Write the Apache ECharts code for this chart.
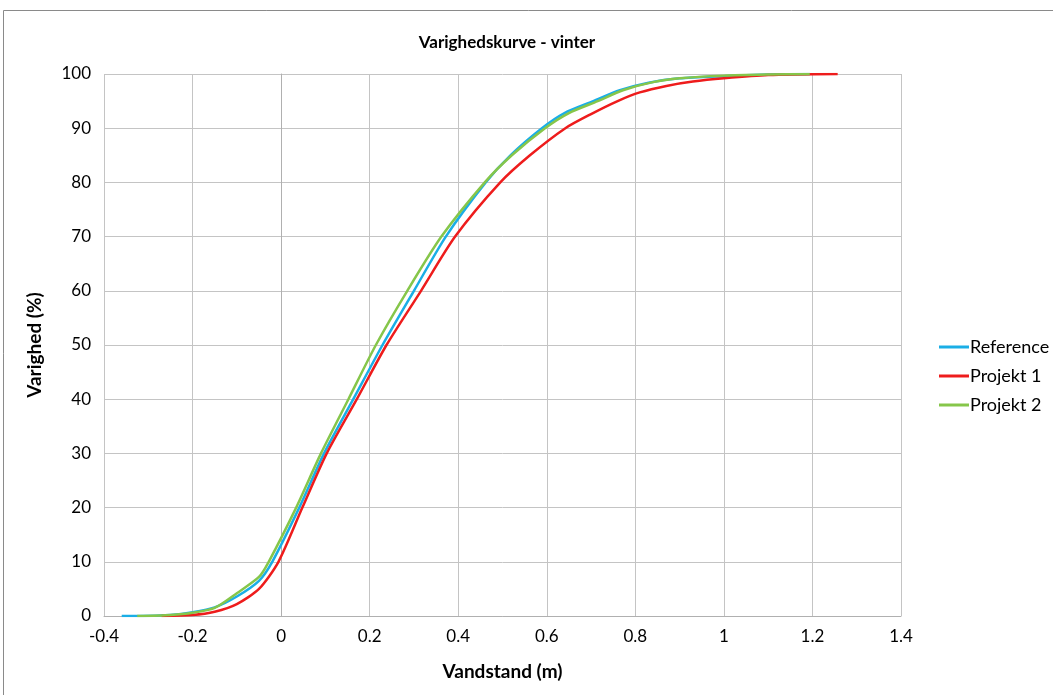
<!DOCTYPE html>
<html><head><meta charset="utf-8">
<script src="https://cdn.jsdelivr.net/npm/echarts@6/dist/echarts.min.js"></script>
<style>html,body{margin:0;padding:0;background:#fff}#c{width:1053px;height:695px}</style>
</head><body><div id="c"></div>
<script>
const xTicks = [-0.4, -0.2, 0, 0.2, 0.4, 0.6, 0.8, 1, 1.2, 1.4];
const refX = [-0.36, -0.32, -0.25, -0.2, -0.15, -0.1, -0.05, -0.02, 0.041, 0.097, 0.163, 0.229, 0.300, 0.372, 0.462, 0.518, 0.589, 0.64, 0.705, 0.765, 0.83, 0.9, 1.0, 1.1, 1.194];
const refY = [0, 0, 0.2, 0.7, 1.6, 3.6, 6.5, 10, 20, 30, 40, 50, 60, 70, 80, 85, 90, 92.8, 95, 97, 98.4, 99.2, 99.6, 99.9, 100];
const p1X = [-0.27, -0.2, -0.15, -0.1, -0.05, -0.006, 0.048, 0.103, 0.171, 0.238, 0.316, 0.393, 0.495, 0.562, 0.642, 0.7, 0.76, 0.81, 0.87, 0.93, 1.0, 1.1, 1.257];
const p1Y = [0, 0.2, 0.8, 2.2, 5.0, 10, 20, 30, 40, 50, 60, 70, 80, 85, 90, 92.6, 95, 96.6, 97.8, 98.6, 99.2, 99.8, 100];
const p2X = [-0.325, -0.25, -0.2, -0.15, -0.1, -0.05, -0.028, 0.034, 0.09, 0.152, 0.214, 0.285, 0.362, 0.46, 0.521, 0.596, 0.65, 0.715, 0.772, 0.84, 0.9, 1.0, 1.1, 1.194];
const p2Y = [0, 0.2, 0.6, 1.5, 4.2, 7.2, 10, 20, 30, 40, 50, 60, 70, 80, 85, 90, 92.8, 95, 97, 98.5, 99.2, 99.7, 99.9, 100];

const zip = (a, b) => a.map((v, i) => [v, b[i]]);
const FONT = 'Lato, "Open Sans", sans-serif';
const chart = echarts.init(document.getElementById('c'));
const lineSeries = (name, xs, ys, color) => ({
  name, type: 'line', data: zip(xs, ys), showSymbol: false,
  smooth: 0.25,
  lineStyle: { color, width: 2.5 }, itemStyle: { color }
});
chart.setOption({
  animation: false,
  title: { text: 'Varighedskurve - vinter', left: 502, top: 29, textAlign: 'center',
    textStyle: { fontFamily: FONT, fontSize: 17, fontWeight: 'bold', color: '#000' } },
  graphic: [{ type: 'rect', shape: { x: 3.5, y: 10.5, width: 1060, height: 700 },
    style: { fill: 'none', stroke: '#8a8a8a', lineWidth: 1 }, silent: true }],
  grid: { left: 104, right: 152, top: 74, bottom: 79 },
  legend: {
    orient: 'vertical', left: 934, top: 333, itemGap: 11, itemWidth: 30, itemHeight: 3,
    icon: 'rect',
    textStyle: { fontFamily: FONT, fontSize: 18, color: '#000', padding: [0, 0, 0, -4] },
    data: ['Reference', 'Projekt 1', 'Projekt 2']
  },
  xAxis: {
    type: 'value', min: -0.4, max: 1.4, interval: 0.2,
    name: 'Vandstand (m)', nameLocation: 'middle', nameGap: 46,
    nameTextStyle: { fontFamily: FONT, fontSize: 19, fontWeight: 'bold', color: '#000' },
    axisLine: { show: true, onZero: false, lineStyle: { color: '#b0b0b0' } },
    axisTick: { show: false },
    axisLabel: { fontFamily: FONT, fontSize: 17, color: '#000', margin: 12,
      formatter: v => String(+v.toFixed(1)) },
    splitLine: { show: true, lineStyle: { color: '#c4c4c4', width: 1 } }
  },
  yAxis: {
    type: 'value', min: 0, max: 100, interval: 10,
    name: 'Varighed (%)', nameLocation: 'middle', nameGap: 60, nameRotate: 90,
    nameTextStyle: { fontFamily: FONT, fontSize: 19, fontWeight: 'bold', color: '#000' },
    axisLine: { show: true, lineStyle: { color: '#b0b0b0' } },
    axisTick: { show: false },
    axisLabel: { fontFamily: FONT, fontSize: 17, color: '#000', margin: 13 },
    splitLine: { show: true, lineStyle: { color: '#c4c4c4', width: 1 } }
  },
  series: [
    lineSeries('Reference', refX, refY, '#1aaee6'),
    lineSeries('Projekt 1', p1X, p1Y, '#ee1c1c'),
    lineSeries('Projekt 2', p2X, p2Y, '#86c64a')
  ]
});
</script></body></html>
